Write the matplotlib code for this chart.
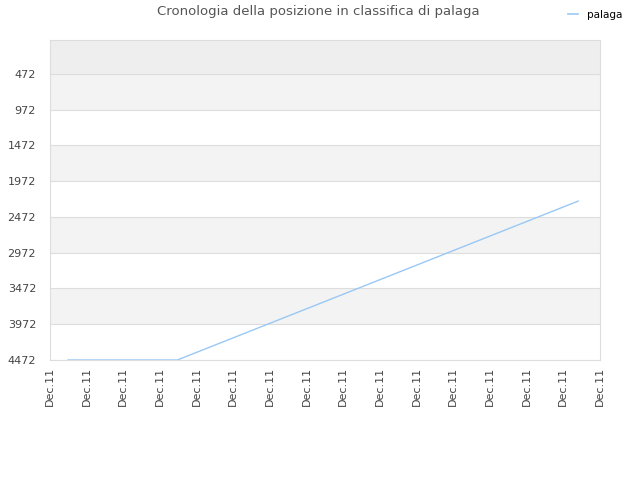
import matplotlib
matplotlib.use("Agg")
import matplotlib.pyplot as plt
from matplotlib.lines import Line2D

title = "Cronologia della posizione in classifica di palaga"
series_name = "palaga"
positions = [4472, 4472, 4472, 4472, 4270, 4068, 3866, 3664, 3462, 3260,
             3058, 2856, 2654, 2452, 2250]
tick_labels = ["Dec.11"] * 16
y_ticks = [472, 972, 1472, 1972, 2472, 2972, 3472, 3972, 4472]

fig = plt.figure(figsize=(6.4, 4.8), dpi=100)
ax = fig.add_axes([50/640, 1-360/480, 550/640, 320/480])

xs = list(range(len(positions)))
x0, x1 = -0.494, 14.6
ax.set_xlim(x0, x1)
ax.set_ylim(4472, -3)

# bands
ax.axhspan(-3, 472, color="#eeeeee", zorder=0, lw=0)
for i in range(len(y_ticks) - 1):
    col = "#f3f3f3" if i % 2 == 0 else "#ffffff"
    ax.axhspan(y_ticks[i], y_ticks[i+1], color=col, zorder=0, lw=0)
for yv in y_ticks:
    ax.axhline(yv, color="#dddddd", lw=0.8, zorder=1)

ax.plot(xs, positions, color="#99c8f5", lw=1.0, zorder=3)

n = len(tick_labels)
tick_pos = [x0 + (x1 - x0) * i / (n - 1) for i in range(n)]
ax.set_xticks(tick_pos)
ax.set_xticklabels(tick_labels, rotation=90, fontsize=8, color="#444444")
ax.set_yticks(y_ticks)
ax.set_yticklabels([str(v) for v in y_ticks], fontsize=8, color="#444444")
ax.tick_params(axis="x", length=0, pad=5)
ax.tick_params(axis="y", length=0, pad=10)
for s in ax.spines.values():
    s.set_color("#dddddd")
    s.set_linewidth(0.8)

fig.text(318/640, 1-12/480, title, ha="center", va="center", fontsize=9.5, color="#555555")
fig.legend(handles=[Line2D([], [], color="#99c8f5", lw=1.2)], labels=[series_name],
           loc="center", bbox_to_anchor=(595/640, 1-15/480), frameon=False,
           fontsize=7.5, handlelength=1.0, handletextpad=0.8)

fig.savefig("out.png", dpi=100, facecolor="white")
